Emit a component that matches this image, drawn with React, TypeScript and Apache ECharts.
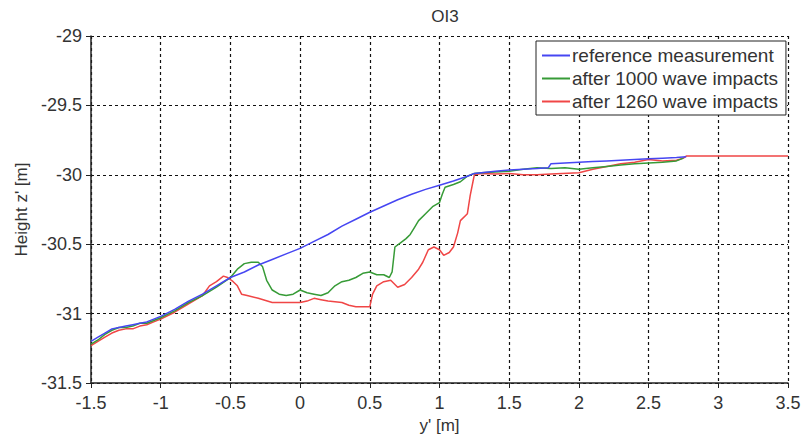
import React, { useEffect, useRef } from "react";
import * as echarts from "echarts";

const title = "OI3";
const xName = "y' [m]";
const yName = "Height z' [m]";
const seriesNames = ["reference measurement", "after 1000 wave impacts", "after 1260 wave impacts"];

const refX = [-1.5, -1.45, -1.4, -1.35, -1.3, -1.25, -1.2, -1.15, -1.1, -1.05, -1.0, -0.9, -0.8, -0.7, -0.6, -0.5, -0.4, -0.3, -0.2, -0.1, 0, 0.1, 0.2, 0.3, 0.4, 0.5, 0.6, 0.7, 0.8, 0.9, 1.0, 1.1, 1.2, 1.25, 1.3, 1.4, 1.5, 1.6, 1.7, 1.78, 1.8, 1.9, 2.0, 2.1, 2.2, 2.3, 2.4, 2.5, 2.6, 2.7, 2.77];
const refY = [-31.2, -31.17, -31.14, -31.11, -31.1, -31.09, -31.08, -31.07, -31.06, -31.04, -31.02, -30.97, -30.91, -30.86, -30.8, -30.74, -30.7, -30.65, -30.61, -30.57, -30.53, -30.48, -30.43, -30.37, -30.32, -30.27, -30.225, -30.18, -30.14, -30.105, -30.075, -30.045, -30.01, -29.99, -29.985, -29.975, -29.965, -29.96, -29.955, -29.95, -29.92, -29.915, -29.91, -29.905, -29.9, -29.895, -29.89, -29.885, -29.88, -29.875, -29.87];

const g1000X = [-1.5, -1.45, -1.4, -1.35, -1.3, -1.25, -1.2, -1.15, -1.1, -1.05, -1.0, -0.9, -0.8, -0.7, -0.6, -0.5, -0.45, -0.4, -0.35, -0.3, -0.27, -0.24, -0.2, -0.15, -0.1, -0.05, 0, 0.05, 0.1, 0.15, 0.2, 0.25, 0.3, 0.35, 0.4, 0.45, 0.5, 0.55, 0.6, 0.64, 0.66, 0.68, 0.72, 0.76, 0.79, 0.82, 0.85, 0.9, 0.95, 1.0, 1.02, 1.04, 1.1, 1.15, 1.2, 1.25, 1.3, 1.4, 1.5, 1.6, 1.7, 1.8, 1.9, 2.0, 2.1, 2.2, 2.3, 2.4, 2.5, 2.6, 2.7, 2.75];
const g1000Y = [-31.22, -31.19, -31.15, -31.12, -31.1, -31.1, -31.09, -31.07, -31.07, -31.05, -31.03, -30.98, -30.92, -30.87, -30.81, -30.74, -30.68, -30.64, -30.63, -30.63, -30.66, -30.76, -30.83, -30.86, -30.87, -30.86, -30.83, -30.85, -30.86, -30.87, -30.85, -30.8, -30.77, -30.76, -30.74, -30.71, -30.7, -30.72, -30.72, -30.74, -30.7, -30.52, -30.49, -30.46, -30.43, -30.38, -30.33, -30.28, -30.23, -30.2, -30.14, -30.09, -30.07, -30.05, -30.01, -29.99, -29.985, -29.98, -29.975, -29.96, -29.95, -29.955, -29.95, -29.96, -29.95, -29.94, -29.93, -29.92, -29.915, -29.91, -29.9, -29.88];

const r1260X = [-1.5, -1.45, -1.4, -1.35, -1.3, -1.25, -1.2, -1.15, -1.1, -1.05, -1.0, -0.9, -0.8, -0.7, -0.65, -0.6, -0.55, -0.52, -0.48, -0.45, -0.42, -0.38, -0.3, -0.2, -0.1, 0, 0.05, 0.1, 0.15, 0.2, 0.3, 0.35, 0.4, 0.5, 0.52, 0.55, 0.6, 0.65, 0.7, 0.75, 0.8, 0.85, 0.88, 0.92, 0.96, 1.0, 1.03, 1.07, 1.1, 1.13, 1.15, 1.2, 1.22, 1.24, 1.25, 1.3, 1.4, 1.5, 1.6, 1.7, 1.8, 2.0, 2.1, 2.2, 2.3, 2.4, 2.5, 2.6, 2.7, 2.75, 2.77, 3.5];
const r1260Y = [-31.23, -31.2, -31.17, -31.14, -31.12, -31.11, -31.11, -31.09, -31.08, -31.06, -31.04, -30.99, -30.93, -30.87, -30.8, -30.77, -30.73, -30.74, -30.77, -30.8, -30.86, -30.87, -30.89, -30.92, -30.92, -30.92, -30.91, -30.89, -30.9, -30.91, -30.92, -30.94, -30.95, -30.95, -30.86, -30.8, -30.77, -30.76, -30.81, -30.79, -30.74, -30.68, -30.63, -30.54, -30.52, -30.54, -30.58, -30.56, -30.52, -30.42, -30.33, -30.28, -30.15, -30.05, -30.0, -29.99, -29.995, -29.99, -30.0, -30.0, -29.995, -29.985, -29.96, -29.94, -29.92, -29.91, -29.89, -29.9, -29.895, -29.88, -29.865, -29.865];

const colors = ["#4646f2", "#379b37", "#f04646"];

const pairs = (xs: number[], ys: number[]) => xs.map((x, i) => [x, ys[i]]);

export default function App() {
  const ref = useRef<HTMLDivElement>(null);
  useEffect(() => {
    document.body.style.margin = "0";
    if (!ref.current) return;
    const chart = echarts.init(ref.current, null, { renderer: "svg" });
    const font = "'Liberation Sans', Arial, sans-serif";
    const data = [pairs(refX, refY), pairs(g1000X, g1000Y), pairs(r1260X, r1260Y)];
    chart.setOption({
      animation: false,
      backgroundColor: "#fff",
      title: {
        text: title,
        left: 440,
        textAlign: "center",
        top: 3,
        textStyle: { fontFamily: font, fontSize: 17, fontWeight: "normal", color: "#333" },
      },
      grid: { left: 91, right: 17, top: 36, bottom: 58 },
      legend: {
        orient: "vertical",
        left: 536,
        top: 41,
        padding: [5, 8, 4, 6],
        itemGap: 4,
        itemWidth: 28,
        itemHeight: 2,
        icon: "rect",
        borderColor: "#222",
        borderWidth: 1,
        backgroundColor: "#fff",
        textStyle: { fontFamily: font, fontSize: 19, color: "#333", padding: [0, 0, 0, -3] },
        data: seriesNames,
      },
      xAxis: {
        type: "value",
        min: -1.5,
        max: 3.5,
        interval: 0.5,
        name: xName,
        nameLocation: "middle",
        nameGap: 29,
        nameTextStyle: { fontFamily: font, fontSize: 17, color: "#333" },
        axisLine: { show: true, onZero: false, lineStyle: { color: "#222", width: 1.5 } },
        axisTick: { show: true, length: 5, lineStyle: { color: "#222" } },
        axisLabel: { fontFamily: font, fontSize: 18, color: "#333", margin: 11 },
        splitLine: { show: true, lineStyle: { color: "#111", type: [3, 3], width: 1.2 } },
      },
      yAxis: {
        type: "value",
        min: -31.5,
        max: -29,
        interval: 0.5,
        name: yName,
        nameLocation: "middle",
        nameGap: 60,
        nameTextStyle: { fontFamily: font, fontSize: 17, color: "#333" },
        axisLine: { show: true, onZero: false, lineStyle: { color: "#222", width: 1.5 } },
        axisTick: { show: true, length: 5, lineStyle: { color: "#222" } },
        axisLabel: { fontFamily: font, fontSize: 18, color: "#333", margin: 9 },
        splitLine: { show: true, lineStyle: { color: "#111", type: [3, 3], width: 1.2 } },
      },
      series: seriesNames.map((name, i) => ({
        name,
        type: "line",
        data: data[i],
        showSymbol: false,
        symbol: "none",
        lineStyle: { color: colors[i], width: 1.5 },
        itemStyle: { color: colors[i] },
        z: 3 - i,
      })),
    });
    return () => chart.dispose();
  }, []);
  return <div ref={ref} style={{ width: 805, height: 441 }} />;
}
